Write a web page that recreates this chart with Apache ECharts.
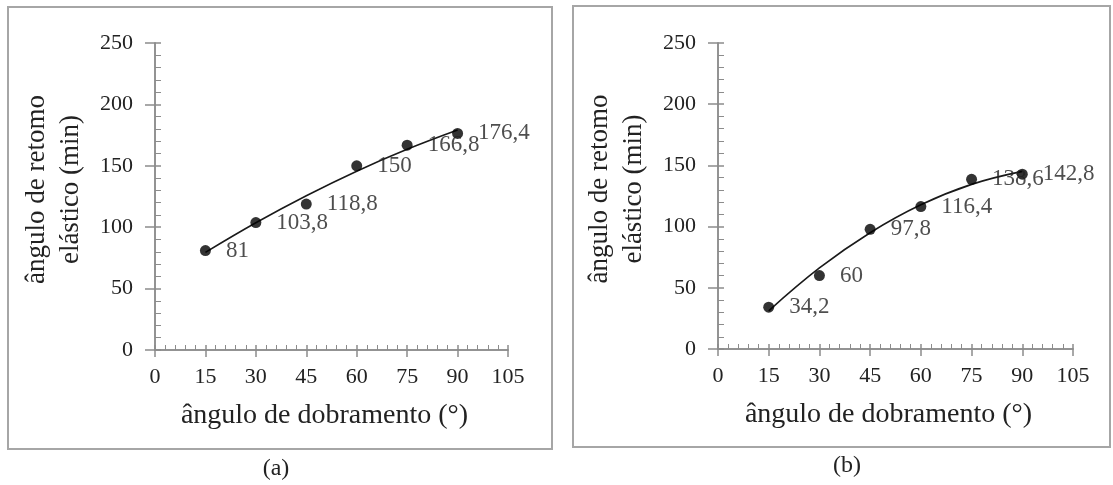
<!DOCTYPE html>
<html>
<head>
<meta charset="utf-8">
<script src="https://cdn.jsdelivr.net/npm/echarts@6/dist/echarts.min.js"></script>
<style>
html,body{margin:0;padding:0;background:#fff;}
#c{width:1113px;height:485px;}
</style>
</head>
<body>
<div id="c"></div>
<script>
// ---- data ----
const xValues = [15, 30, 45, 60, 75, 90];
const seriesA = [81, 103.8, 118.8, 150, 166.8, 176.4];
const seriesB = [34.2, 60, 97.8, 116.4, 138.6, 142.8];
// trend lines
const trendA = [79.5, 103.6, 125.6, 145.6, 163.4, 179.1];
const trendB = [31.2, 66.2, 95.0, 117.8, 134.5, 145.1];
const xTickMin = 0, xTickMax = 105, xTickStep = 15;
const yTickMin = 0, yTickMax = 250, yTickStep = 50;
const xTitle = 'ângulo de dobramento (°)';
const yTitle = 'ângulo de retomo\nelástico (min)';
const captions = ['(a)', '(b)'];

const FONT = '"Liberation Serif", "Times New Roman", serif';
const TXT = '#222';
const AX = '#8c8c8c';

function pairs(xs, ys) { return xs.map((x, i) => [x, ys[i]]); }
function fmt(v) { return String(v).replace('.', ','); }

const gridRects = [
  {left: 155, top: 43, width: 353, height: 307},
  {left: 155, top: 43, width: 353, height: 307},
  {left: 718, top: 43, width: 355, height: 306},
  {left: 718, top: 43, width: 355, height: 306}
];

const xAxes = [], yAxes = [];
gridRects.forEach((g, i) => {
  const main = i % 2 === 0;
  xAxes.push({
    type: 'value', gridIndex: i, min: xTickMin, max: xTickMax, interval: xTickStep,
    axisLine: {show: true, lineStyle: {color: AX, width: 1.5}},
    axisTick: main ? {show: true, inside: false, length: 7, lineStyle: {color: AX, width: 1.5}}
                   : {show: true, inside: true, length: 5, lineStyle: {color: AX, width: 1.5}},
    minorTick: main ? {show: false} : {show: true, splitNumber: 5, length: 5, lineStyle: {color: AX, width: 1}},
    splitLine: {show: false},
    axisLabel: main ? {show: true, margin: 16, fontFamily: FONT, fontSize: 22, color: TXT} : {show: false},
    name: main ? xTitle : '',
    nameLocation: 'middle', nameGap: 52,
    nameTextStyle: {fontFamily: FONT, fontSize: 28, color: TXT, padding: [0, 14, 0, 0]}
  });
  yAxes.push({
    type: 'value', gridIndex: i, min: yTickMin, max: yTickMax, interval: yTickStep,
    axisLine: {show: true, lineStyle: {color: AX, width: 1.5}},
    axisTick: main ? {show: true, inside: false, length: 10, lineStyle: {color: AX, width: 1.5}}
                   : {show: true, inside: true, length: 6, lineStyle: {color: AX, width: 1.5}},
    minorTick: main ? {show: false} : {show: true, splitNumber: 5, length: 6, lineStyle: {color: AX, width: 1}},
    splitLine: {show: false},
    axisLabel: main ? {show: true, margin: 22, fontFamily: FONT, fontSize: 22, color: TXT} : {show: false},
    name: main ? yTitle : '',
    nameLocation: 'middle', nameGap: 67,
    nameTextStyle: {fontFamily: FONT, fontSize: 27, lineHeight: 34, color: TXT, padding: [0, 0, 0, 14]}
  });
});

function trendSeries(idx, ys) {
  return {
    type: 'line', xAxisIndex: idx, yAxisIndex: idx, data: pairs(xValues, ys),
    smooth: 0.4, showSymbol: false, symbol: 'none', silent: true, z: 2,
    lineStyle: {color: '#1a1a1a', width: 1.6}
  };
}
function pointSeries(idx, ys) {
  return {
    type: 'scatter', xAxisIndex: idx, yAxisIndex: idx, data: pairs(xValues, ys),
    symbol: 'circle', symbolSize: 11, z: 3,
    itemStyle: {color: '#000'},
    label: {show: true, position: 'right', distance: 15,
      fontFamily: FONT, fontSize: 23, color: TXT,
      formatter: p => fmt(p.value[1])}
  };
}

const option = {
  animation: false,
  backgroundColor: '#fff',
  grid: gridRects,
  xAxis: xAxes,
  yAxis: yAxes,
  series: [
    trendSeries(0, trendA), pointSeries(0, seriesA),
    trendSeries(2, trendB), pointSeries(2, seriesB)
  ],
  graphic: [
    {type: 'rect', shape: {x: 8, y: 7, width: 544, height: 442}, style: {fill: 'none', stroke: '#a6a6a6', lineWidth: 2}, silent: true},
    {type: 'rect', shape: {x: 573, y: 6, width: 537, height: 441}, style: {fill: 'none', stroke: '#a6a6a6', lineWidth: 2}, silent: true},
    {type: 'text', x: 276, y: 469, style: {text: captions[0], font: '24px ' + FONT, fill: TXT, textAlign: 'center', textVerticalAlign: 'middle'}},
    {type: 'text', x: 847, y: 466, style: {text: captions[1], font: '24px ' + FONT, fill: TXT, textAlign: 'center', textVerticalAlign: 'middle'}}
  ]
};

const chart = echarts.init(document.getElementById('c'), null, {renderer: 'canvas'});
chart.setOption(option);
</script>
</body>
</html>
